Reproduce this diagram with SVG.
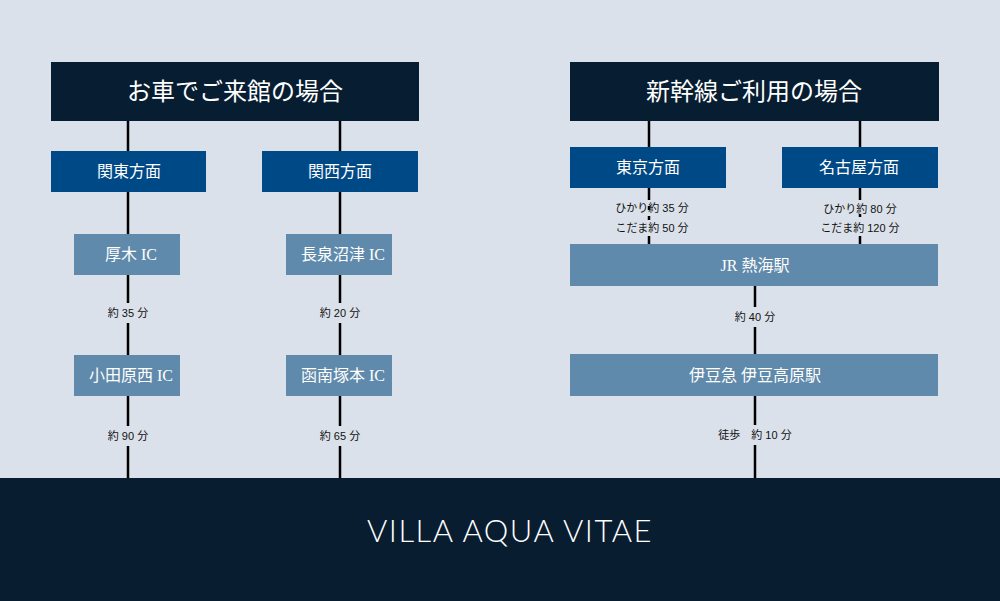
<svg xmlns="http://www.w3.org/2000/svg" width="1000" height="601" viewBox="0 0 1000 601">
<style>
.hd{fill:#071d31}.md{fill:#004987}.lt{fill:#5f8aab}
.ht{font-family:"Liberation Serif","Noto Sans CJK JP",serif;font-size:24px;fill:#fff;text-anchor:middle}
.bt{font-family:"Liberation Serif","Noto Sans CJK JP",serif;font-size:16px;fill:#fff;text-anchor:middle}
.lb{font-family:"Liberation Sans","Noto Sans CJK JP",sans-serif;font-size:11px;fill:#111;text-anchor:middle}
.ln{stroke:#000;stroke-width:2.5;fill:none}
.bg{fill:#dbe1ea}
</style>
<rect width="1000" height="601" fill="#dbe1ea"/>
<g id="connectors">
<path class="ln" d="M128 121V478M340 121V478M649 121V244M860 121V244M755 286V478"/>
<rect class="bg" x="100" y="303" width="56" height="20"/>
<rect class="bg" x="100" y="426" width="56" height="20"/>
<rect class="bg" x="312" y="303" width="56" height="20"/>
<rect class="bg" x="312" y="426" width="56" height="20"/>
<rect class="bg" x="727" y="307" width="56" height="20"/>
<rect class="bg" x="705" y="425" width="100" height="20"/>
<rect class="bg" x="612" y="200" width="80" height="6"/>
<rect class="bg" x="612" y="210" width="80" height="6"/>
<rect class="bg" x="612" y="220" width="80" height="16"/>
<rect class="bg" x="820" y="200" width="80" height="14"/>
<rect class="bg" x="820" y="217" width="85" height="19"/>
<text class="lb" x="128" y="317">約 35 分</text>
<text class="lb" x="128" y="440">約 90 分</text>
<text class="lb" x="340" y="317">約 20 分</text>
<text class="lb" x="340" y="440">約 65 分</text>
<text class="lb" x="652" y="212">ひかり約 35 分</text>
<text class="lb" x="652" y="232">こだま約 50 分</text>
<text class="lb" x="860" y="213">ひかり約 80 分</text>
<text class="lb" x="860" y="232">こだま約 120 分</text>
<text class="lb" x="755" y="321">約 40 分</text>
<text class="lb" x="755" y="439">徒歩　約 10 分</text>
</g>
<g id="car"><rect class="hd" x="51" y="62" width="368" height="59"/><text class="ht" x="235" y="100">お車でご来館の場合</text></g>
<g id="shinkansen"><rect class="hd" x="570" y="62" width="369" height="59"/><text class="ht" x="754" y="100">新幹線ご利用の場合</text></g>
<g id="kanto"><rect class="md" x="51" y="151" width="155" height="41"/><text class="bt" x="129" y="177">関東方面</text></g>
<g id="kansai"><rect class="md" x="262" y="151" width="156" height="41"/><text class="bt" x="340" y="177">関西方面</text></g>
<g id="atsugi"><rect class="lt" x="74" y="234" width="106" height="41"/><text class="bt" x="131" y="260">厚木 IC</text></g>
<g id="nagaizumi"><rect class="lt" x="286" y="234" width="106" height="41"/><text class="bt" x="343" y="260">長泉沼津 IC</text></g>
<g id="odawara"><rect class="lt" x="74" y="355" width="106" height="41"/><text class="bt" x="131" y="381">小田原西 IC</text></g>
<g id="kannami"><rect class="lt" x="286" y="355" width="106" height="41"/><text class="bt" x="343" y="381">函南塚本 IC</text></g>
<g id="tokyo"><rect class="md" x="570" y="147" width="156" height="41"/><text class="bt" x="648" y="173">東京方面</text></g>
<g id="nagoya"><rect class="md" x="782" y="147" width="156" height="41"/><text class="bt" x="859" y="173">名古屋方面</text></g>
<g id="atami"><rect class="lt" x="570" y="244" width="368" height="42"/><text class="bt" x="755" y="271">JR 熱海駅</text></g>
<g id="izukogen"><rect class="lt" x="570" y="354" width="368" height="42"/><text class="bt" x="755" y="381">伊豆急 伊豆高原駅</text></g>
<g id="footer"><rect x="0" y="478" width="1000" height="123" fill="#081d30"/><text x="510" y="542" font-family="Lato,'Open Sans',sans-serif" font-weight="300" font-size="31" fill="#fff" text-anchor="middle" letter-spacing="1.5">VILLA AQUA VITAE</text></g>
</svg>
